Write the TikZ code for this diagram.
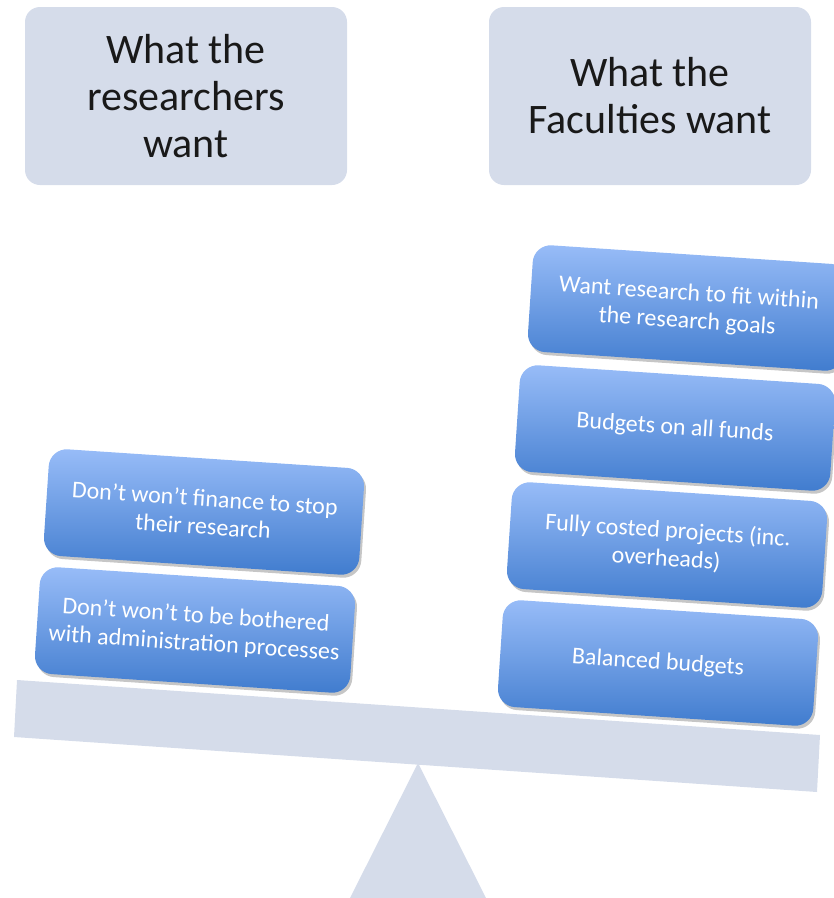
\documentclass[tikz,border=0pt]{standalone}
\usepackage{fontspec}
\setmainfont{Carlito}
\usetikzlibrary{shadows}

\definecolor{beamgray}{RGB}{213,220,234}
\definecolor{itemtop}{RGB}{152,188,248}
\definecolor{itembot}{RGB}{64,124,206}

\begin{document}
\begin{tikzpicture}[x=1pt, y=-1pt,
  headbox/.style={fill=beamgray, rounded corners=15pt, minimum width=322pt, minimum height=178pt,
    align=center, font=\fontsize{42}{47}\selectfont, text=black!90},
  itembox/.style={rounded corners=18pt, minimum width=316pt, minimum height=107pt,
    top color=itemtop, bottom color=itembot, text=white, align=center,
    font=\fontsize{24}{28}\selectfont, rotate=-3.8,
    drop shadow={opacity=0.45, shadow xshift=2pt, shadow yshift=-3pt}}]
\useasboundingbox (0,0) rectangle (834,898);

% Titles
\node[headbox] (researchers) at (186,96) {What the\\researchers\\want};
\node[headbox] (faculties) at (650,96) {What the\\Faculties want};

% Seesaw
\fill[beamgray] (418,763) -- (486,898) -- (350,898) -- cycle;
\fill[beamgray] (17,680) -- (820,735) -- (817,792) -- (14,737) -- cycle;

% Left pile
\node[itembox] (stop) at (204,512) {Don’t won’t finance to stop\\their research};
\node[itembox] (admin) at (195,630) {Don’t won’t to be bothered\\with administration processes};

% Right pile
\node[itembox] (goals) at (688,308) {Want research to fit within\\the research goals};
\node[itembox] (funds) at (675,428) {Budgets on all funds};
\node[itembox] (costed) at (667,545) {Fully costed projects (inc.\\overheads)};
\node[itembox] (balanced) at (658,663) {Balanced budgets};
\end{tikzpicture}
\end{document}
